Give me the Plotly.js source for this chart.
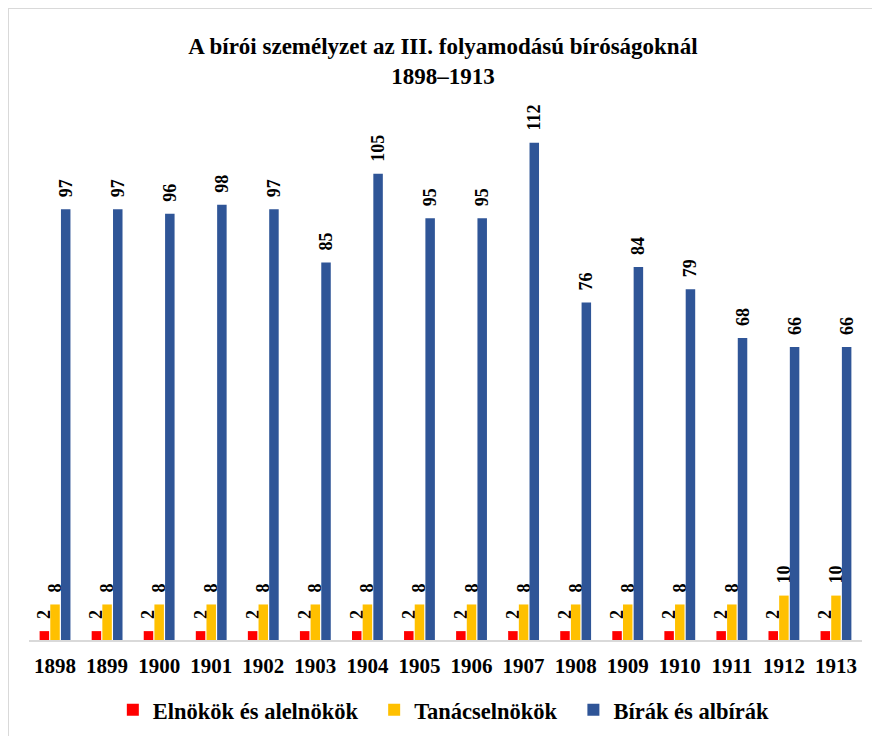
<!DOCTYPE html>
<html><head><meta charset="utf-8">
<script src="https://cdn.plot.ly/plotly-3.0.1.min.js"></script>
<style>
body{margin:0;padding:0;background:#fff;}
#wrap{position:relative;width:872px;height:736px;}
#chart{width:872px;height:736px;}
#frame{position:absolute;left:8px;top:8px;width:900px;height:800px;border:1px solid #d9d9d9;pointer-events:none;}
</style></head>
<body>
<div id="wrap"><div id="chart"></div><div id="frame"></div></div>
<script>
const years = ['1898','1899','1900','1901','1902','1903','1904','1905','1906','1907','1908','1909','1910','1911','1912','1913'];
const elnokok = [2,2,2,2,2,2,2,2,2,2,2,2,2,2,2,2];
const tanacselnokok = [8,8,8,8,8,8,8,8,8,8,8,8,8,8,10,10];
const birak = [97,97,96,98,97,85,105,95,95,112,76,84,79,68,66,66];
const seriesNames = ['Elnökök és alelnökök','Tanácselnökök','Bírák és albírák'];
const colors = ['#FF0000','#FFC000','#2F5597'];

const serif = 'Liberation Serif, Times New Roman, serif';
const labelFont = {family: serif, size: 18, color: '#000'};

function mk(vals, i){
  return {
    type:'bar', x: years, y: vals,
    name: '<b>' + seriesNames[i] + '</b>' + (i < 2 ? '\u00a0\u00a0' : ''),
    marker:{color: colors[i]},
    text: vals.map(v => '\u2002<b>' + v + '</b>'), textposition:'outside', textangle:-90,
    constraintext:'none',
    textfont: labelFont, cliponaxis:false,
    hoverinfo:'skip'
  };
}
const data = [mk(elnokok,0), mk(tanacselnokok,1), mk(birak,2)];

const layout = {
  width:872, height:736,
  margin:{l:29, r:10, t:100, b:96},
  paper_bgcolor:'rgba(0,0,0,0)', plot_bgcolor:'rgba(0,0,0,0)',
  title:{text:'<b>A bírói személyzet az III. folyamodású bíróságoknál<br>1898–1913</b>',
    font:{family: serif, size:23, color:'#000'}, x:0.508, xanchor:'center', y:0.926, yanchor:'middle', yref:'container'},
  barmode:'group', bargap:0.385, bargroupgap:0.11,
  xaxis:{type:'category', showline:true, linecolor:'#d9d9d9', linewidth:1.5, ticks:'',
    ticklabelstandoff:6,
    tickfont:{family: serif, size:21, color:'#000'}, showgrid:false, zeroline:false,
    tickprefix:'<b>', ticksuffix:'</b>'},
  yaxis:{range:[0,121.6], visible:false, showgrid:false, zeroline:false},
  showlegend:true,
  legend:{orientation:'h', x:0.498, xanchor:'center', y:0.035, yanchor:'middle', yref:'container',
    font:{family: serif, size:22.5, color:'#000'}, itemclick:false, traceorder:'normal'}
};
Plotly.newPlot('chart', data, layout, {staticPlot:true});
</script>
</body></html>
